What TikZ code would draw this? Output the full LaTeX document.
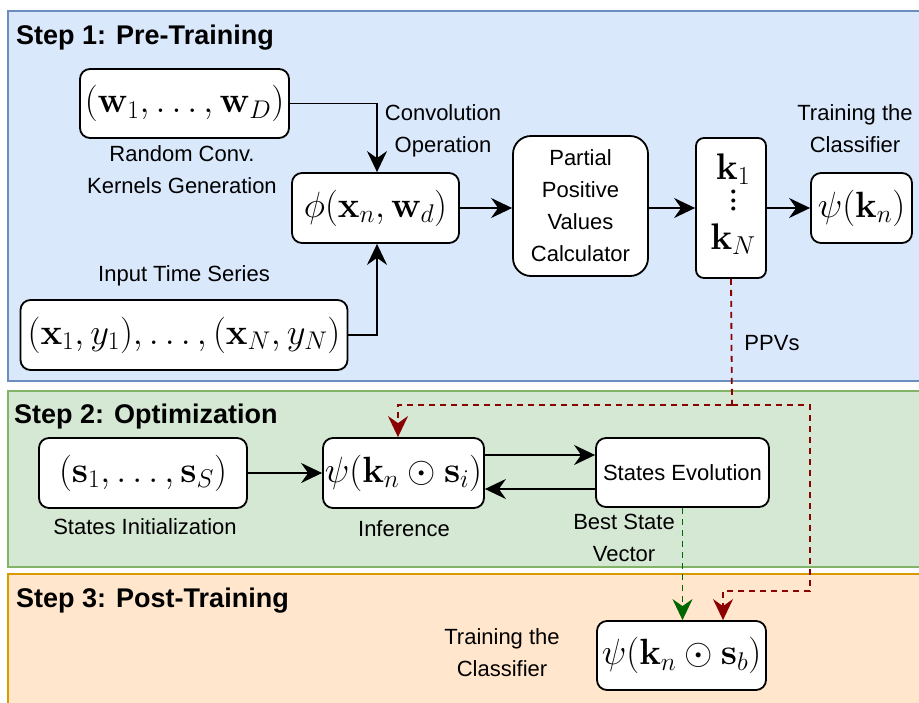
\RequirePackage{fix-cm}
\documentclass[tikz,border=0pt]{standalone}
\usepackage{amsmath}
\usepackage[no-math]{fontspec}
\setmainfont{Liberation Sans}
\usetikzlibrary{arrows.meta}
\definecolor{bluefill}{HTML}{DAE8FC}\definecolor{bluedraw}{HTML}{6C8EBF}
\definecolor{greenfill}{HTML}{D5E8D4}\definecolor{greendraw}{HTML}{82B366}
\definecolor{orangefill}{HTML}{FFE6CC}\definecolor{orangedraw}{HTML}{D79B00}
\definecolor{ppvred}{HTML}{8B0000}\definecolor{bestgreen}{HTML}{006600}
\tikzset{
  region/.style={line width=1.5pt},
  box/.style={draw=black, fill=white, line width=1.8pt, rounded corners=10pt, inner sep=0pt, align=center},
  mathtxt/.style={font=\fontsize{36.5}{40}\selectfont},
  kmath/.style={font=\fontsize{37}{40}\selectfont, inner sep=0pt},
  kdot/.style={font=\fontsize{38}{40}\selectfont, inner sep=0pt, text height=11.5pt, text depth=-7.5pt, text width=6pt, align=center},
  lbl/.style={font=\fontsize{22}{32}\selectfont, align=center, inner sep=0pt},
  ttl/.style={font=\fontsize{27}{32}\selectfont\bfseries, anchor=west, inner sep=0pt},
  arr/.style={line width=1.8pt, -{Stealth[length=21pt,width=20pt,inset=7pt]}},
  ppv/.style={line width=1.8pt, draw=ppvred, dash pattern=on 6pt off 5pt, -{Stealth[length=21pt,width=20pt,inset=7pt,fill=ppvred]}},
  ppvline/.style={line width=1.8pt, draw=ppvred, dash pattern=on 6pt off 5pt},
  bsv/.style={line width=1.8pt, draw=bestgreen, dash pattern=on 6pt off 5pt, -{Stealth[length=21pt,width=20pt,inset=7pt,fill=bestgreen]}},
}
\begin{document}
\begin{tikzpicture}[x=1pt,y=-1pt]
\useasboundingbox (0,0) rectangle (919,702);
\clip (0,0) rectangle (919,702);
% regions
\draw[region, fill=bluefill, draw=bluedraw] (8,11) rectangle (930,381);
\draw[region, fill=greenfill, draw=greendraw] (8,391) rectangle (930,567);
\draw[region, fill=orangefill, draw=orangedraw] (8,574) rectangle (930,712);
\node[ttl] (t1) at (16,38) {Step 1: Pre-Training};
\node[ttl] (t2) at (14,417) {Step 2: Optimization};
\node[ttl] (t3) at (16,601) {Step 3: Post-Training};
% step 1 nodes
\node[box, mathtxt, minimum width=209pt, minimum height=69pt] (w) at (184.5,103.5) {$(\mathbf{w}_1,\ldots,\mathbf{w}_D)$};
\node[box, mathtxt, minimum width=167pt, minimum height=70pt] (phi) at (375.5,208) {$\phi(\mathbf{x}_n,\mathbf{w}_d)$};
\node[box, mathtxt, minimum width=327pt, minimum height=70pt] (inp) at (184,335) {$(\mathbf{x}_1,y_1),\ldots,(\mathbf{x}_N,y_N)$};
\node[box, lbl, rounded corners=18pt, minimum width=135pt, minimum height=140pt] (ppvc) at (580.5,206) {Partial\\Positive\\Values\\Calculator};
\node[box, rounded corners=8pt, minimum width=70pt, minimum height=140pt] (k) at (731,208) {};
\node[kmath] (k1) at (733,169) {$\mathbf{k}_1$};
\node[kdot] (kd1) at (731,196) {$\cdot$};
\node[kdot] (kd2) at (731,204.5) {$\cdot$};
\node[kdot] (kd3) at (731,213) {$\cdot$};
\node[kmath] (kN) at (733,239) {$\mathbf{k}_N$};
\node[box, mathtxt, minimum width=101pt, minimum height=70pt] (psi) at (861.5,208) {$\psi(\mathbf{k}_n)$};
\node[lbl] (lw) at (182,170) {Random Conv.\\Kernels Generation};
\node[lbl] (lconv) at (443,131) {Convolution\\Operation};
\node[lbl] (linp) at (184,276) {Input Time Series};
\node[lbl] (ltr1) at (855,129) {Training the\\Classifier};
\node[lbl] (lppv) at (772,343) {PPVs};
% step 2 nodes
\node[box, mathtxt, minimum width=208pt, minimum height=70pt] (s) at (143,473) {$(\mathbf{s}_1,\ldots,\mathbf{s}_S)$};
\node[box, mathtxt, minimum width=161pt, minimum height=70pt] (inf) at (403.5,473) {$\psi(\mathbf{k}_n\odot\mathbf{s}_i)$};
\node[box, lbl, minimum width=173pt, minimum height=69pt] (se) at (682.5,472.5) {States Evolution};
\node[lbl] (ls) at (145,527) {States Initialization};
\node[lbl] (linf) at (404,529) {Inference};
\node[lbl] (lbest) at (624,538) {Best State\\Vector};
% step 3 nodes
\node[box, mathtxt, minimum width=169pt, minimum height=69pt] (tgt) at (681.5,655.5) {$\psi(\mathbf{k}_n\odot\mathbf{s}_b)$};
\node[lbl] (ltr2) at (502,653) {Training the\\Classifier};
% connectors
\draw[arr] (w.east) -| ([xshift=1.5pt]phi.north);
\draw[arr] (inp.east) -| ([xshift=1.5pt]phi.south);
\draw[arr] (phi.east) -- (phi.east -| ppvc.west);
\draw[arr] (ppvc.east |- k.west) -- (k.west);
\draw[arr] (k.east) -- (psi.west);
\draw[arr] (s.east) -- (inf.west);
\draw[arr] ([yshift=18pt]inf.east) -- ([yshift=18pt]inf.east -| se.west);
\draw[arr] ([yshift=-16.5pt]se.west) -- ([yshift=-16.5pt]se.west -| inf.east);
\coordinate (r1) at (732,405);
\coordinate (r2) at (398,405);
\coordinate (r3) at (810,405);
\coordinate (r4) at (810,591);
\coordinate (r5) at (723,591);
\draw[ppvline] (k.south) -- (r1);
\draw[ppv] (r1) -- (r2) -- (r2 |- inf.north);
\draw[ppv] (r1) -- (r3) -- (r4) -- (r5) -- (r5 |- tgt.north);
\draw[bsv] (se.south) -- (se.south |- tgt.north);
\end{tikzpicture}
\end{document}
